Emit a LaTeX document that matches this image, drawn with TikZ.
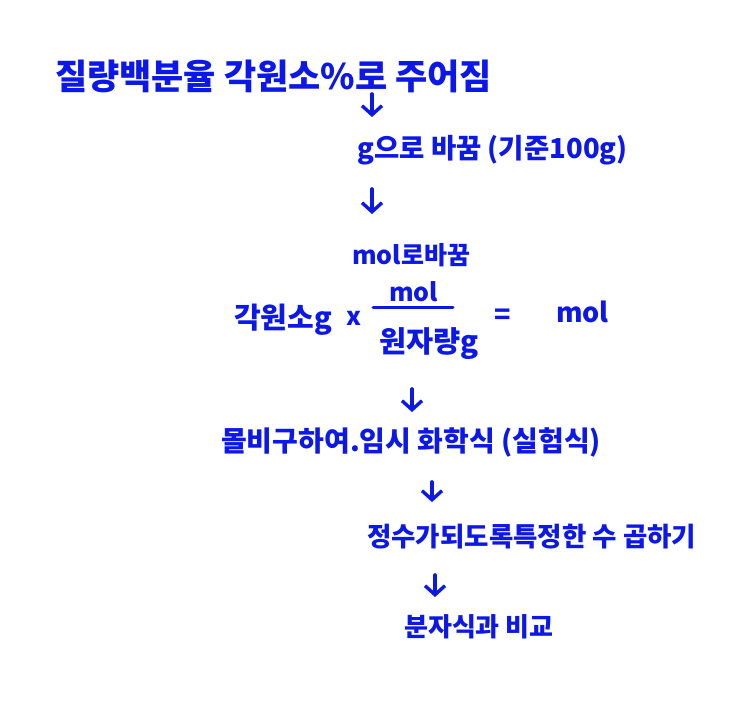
\documentclass[tikz,border=0pt]{standalone}
\usepackage{fontspec}
\setmainfont{Noto Sans CJK KR}
\usetikzlibrary{arrows.meta}
\definecolor{hand}{RGB}{12,24,232}
\tikzset{
  txt/.style={text=hand, inner sep=0pt, anchor=west, font=\bfseries\fontsize{#1}{#1}\selectfont},
  arr/.style={draw=hand, line width=3.6pt, line cap=round, -{Straight Barb[length=9pt,width=20pt,line width=3.4pt]}},
  bar/.style={draw=hand, line width=3pt, line cap=round}
}
\begin{document}
\begin{tikzpicture}[x=1pt,y=-1pt]
\useasboundingbox[fill=white] (0,0) rectangle (750,721);
\node[txt=35] (l1) at (55,76) {질량백분율 각원소\%로 주어짐};
\node[txt=27.5] (l2) at (357,150) {g으로 바꿈 (기준100g)};
\node[txt=25] (l3) at (352,255) {mol로바꿈};
\node[txt=29] (f1) at (234,320) {각원소g};
\node[txt=25] (fx) at (346,318) {x};
\coordinate (bs) at (373,307);
\coordinate (be) at (453,307);
\node[txt=25] (fn) at (389,292) {mol};
\node[txt=29.5] (fd) at (379,344) {원자량g};
\node[txt=27] (fe) at (494,317) {=};
\node[txt=27] (fm) at (556,312) {mol};
\node[txt=28] (l5) at (221,442) {몰비구하여.임시 화학식 (실험식)};
\node[txt=26.5] (l6) at (367,537) {정수가되도록특정한 수 곱하기};
\node[txt=26] (l7) at (404,627) {분자식과 비교};
\coordinate (a1s) at (372,94);
\coordinate (a1e) at (372,117);
\coordinate (a2s) at (372,189);
\coordinate (a2e) at (372,214);
\coordinate (a3s) at (412,389);
\coordinate (a3e) at (412,412);
\coordinate (a4s) at (432,482);
\coordinate (a4e) at (432,502);
\coordinate (a5s) at (435,575);
\coordinate (a5e) at (435,597);
\draw[bar] (bs) -- (be);
\draw[arr] (a1s) -- (a1e);
\draw[arr] (a2s) -- (a2e);
\draw[arr] (a3s) -- (a3e);
\draw[arr] (a4s) -- (a4e);
\draw[arr] (a5s) -- (a5e);
\end{tikzpicture}
\end{document}
